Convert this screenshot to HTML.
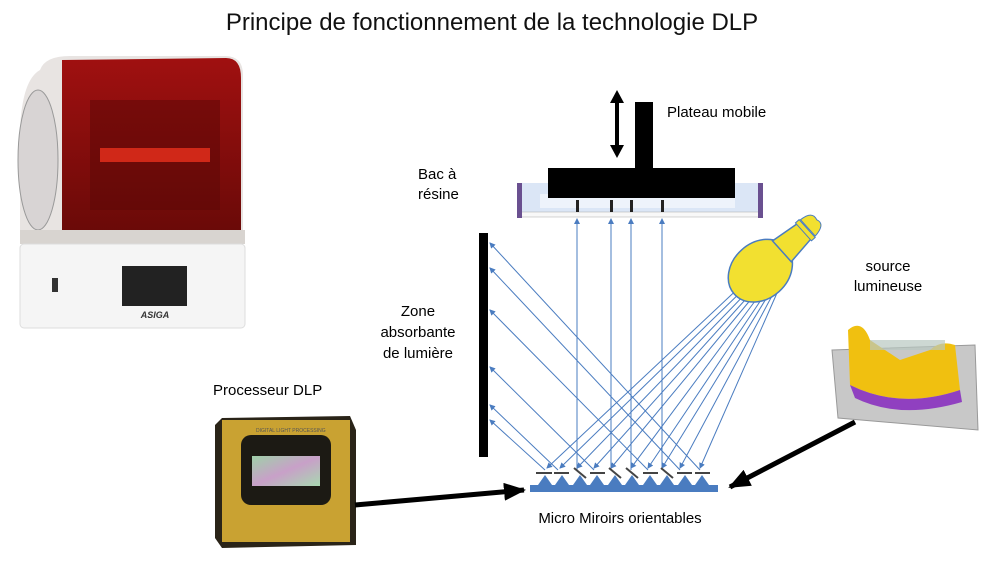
<!DOCTYPE html>
<html><head><meta charset="utf-8"><style>
html,body{margin:0;padding:0;background:#fff;}
svg{display:block;font-family:"Liberation Sans",sans-serif;}
</style></head><body>
<svg width="1000" height="562" viewBox="0 0 1000 562" xmlns="http://www.w3.org/2000/svg">
<defs>
<marker id="ah" markerWidth="6" markerHeight="6" refX="5" refY="3" orient="auto" markerUnits="userSpaceOnUse"><path d="M0,0 L6,3 L0,6 z" fill="#4a7cc0"/></marker>
<marker id="bh" markerWidth="22" markerHeight="18" refX="20" refY="9" orient="auto" markerUnits="userSpaceOnUse"><path d="M0,0 L22,9 L0,18 z" fill="#000"/></marker>
<linearGradient id="red" x1="0" y1="0" x2="0" y2="1"><stop offset="0" stop-color="#a01010"/><stop offset="1" stop-color="#6a0a08"/></linearGradient>
<linearGradient id="scr" x1="0" y1="0" x2="1" y2="1"><stop offset="0" stop-color="#9fd0a8"/><stop offset=".5" stop-color="#c8a0c8"/><stop offset="1" stop-color="#a8d8b0"/></linearGradient>
</defs>
<text x="492" y="30" font-size="24" text-anchor="middle" fill="#111">Principe de fonctionnement de la technologie DLP</text>

<!-- printer -->
<path d="M40,70 Q45,56 70,56 L225,56 Q243,56 243,75 L243,240 L20,240 L20,130 Q22,80 40,70z" fill="#e8e4e2"/>
<path d="M62,60 L226,58 Q241,58 241,78 L241,232 L62,232 z" fill="url(#red)"/>
<ellipse cx="38" cy="160" rx="20" ry="70" fill="#d8d4d4" stroke="#999"/>
<rect x="90" y="100" width="130" height="110" fill="#5a0806" opacity=".5"/>
<rect x="100" y="148" width="110" height="14" fill="#d02818"/>
<rect x="20" y="230" width="225" height="14" fill="#d8d4d0"/>
<rect x="20" y="244" width="225" height="84" rx="4" fill="#f5f5f5" stroke="#ddd"/>
<rect x="122" y="266" width="65" height="40" fill="#222"/>
<rect x="52" y="278" width="6" height="14" fill="#333"/>
<text x="155" y="318" font-size="9" font-weight="bold" font-style="italic" text-anchor="middle" fill="#333">ASIGA</text>

<!-- labels -->
<text x="667" y="117" font-size="15">Plateau mobile</text>
<text x="418" y="179" font-size="15">Bac à</text>
<text x="418" y="199" font-size="15">résine</text>
<text x="418" y="316" font-size="15" text-anchor="middle">Zone</text>
<text x="418" y="337" font-size="15" text-anchor="middle">absorbante</text>
<text x="418" y="358" font-size="15" text-anchor="middle">de lumière</text>
<text x="888" y="271" font-size="15" text-anchor="middle">source</text>
<text x="888" y="291" font-size="15" text-anchor="middle">lumineuse</text>
<text x="213" y="395" font-size="15">Processeur DLP</text>
<text x="620" y="523" font-size="15" text-anchor="middle">Micro Miroirs orientables</text>

<!-- plateau -->
<path d="M617,90 L624,103 L619,103 L619,145 L624,145 L617,158 L610,145 L615,145 L615,103 L610,103 z" fill="#000"/>
<rect x="635" y="102" width="18" height="70" fill="#000"/>
<rect x="520" y="183" width="242" height="31" fill="#dbe6f6"/>
<rect x="540" y="194" width="195" height="14" fill="#eef3fb"/>
<rect x="520" y="212" width="242" height="5" fill="#f8f8f8" stroke="#aaa" stroke-width=".5"/>
<rect x="517" y="183" width="5" height="35" fill="#6a5090"/>
<rect x="758" y="183" width="5" height="35" fill="#6a5090"/>
<rect x="548" y="168" width="187" height="30" fill="#000"/>
<g fill="#222"><rect x="576" y="200" width="3" height="12"/><rect x="610" y="200" width="3" height="12"/><rect x="630" y="200" width="3" height="12"/><rect x="661" y="200" width="3" height="12"/></g>

<!-- absorbing bar -->
<rect x="479" y="233" width="9" height="224" fill="#000"/>

<!-- rays -->
<g stroke="#4a7cc0" stroke-width="1" fill="none" marker-end="url(#ah)">
<line x1="577" y1="470" x2="577" y2="219"/>
<line x1="611" y1="470" x2="611" y2="219"/>
<line x1="631" y1="470" x2="631" y2="219"/>
<line x1="662" y1="470" x2="662" y2="219"/>
<line x1="545" y1="470" x2="490" y2="420"/>
<line x1="558" y1="470" x2="490" y2="405"/>
<line x1="594" y1="470" x2="490" y2="367"/>
<line x1="648" y1="470" x2="490" y2="310"/>
<line x1="680" y1="470" x2="490" y2="268"/>
<line x1="700" y1="470" x2="490" y2="243"/>
<line x1="745" y1="282" x2="547" y2="468"/>
<line x1="748" y1="285" x2="560" y2="468"/>
<line x1="751" y1="288" x2="577" y2="468"/>
<line x1="754" y1="290" x2="594" y2="468"/>
<line x1="757" y1="292" x2="611" y2="468"/>
<line x1="761" y1="293" x2="631" y2="468"/>
<line x1="765" y1="294" x2="648" y2="468"/>
<line x1="769" y1="294" x2="662" y2="468"/>
<line x1="773" y1="294" x2="680" y2="468"/>
<line x1="777" y1="293" x2="700" y2="468"/>
</g>

<!-- bulb -->
<g transform="rotate(48 770 262)">
<ellipse cx="770" cy="275" rx="28" ry="35" fill="#f2e030" stroke="#4a7cc0" stroke-width="1.5"/>
<path d="M756,246 L760,214 L780,214 L784,246 z" fill="#f2e030" stroke="#4a7cc0" stroke-width="1.5"/>
<rect x="758" y="212" width="24" height="5" fill="#f2e030" stroke="#4a7cc0"/>
<path d="M759,211 Q760,196 770,199 Q779,195 781,211 z" fill="#f2e030" stroke="#4a7cc0"/>
</g>

<!-- mirrors -->
<rect x="530" y="485" width="188" height="7" fill="#4a7cc0"/>
<g fill="#4a7cc0">
<path d="M538,485 L545,475 L552,485z"/><path d="M555,485 L562,475 L569,485z"/><path d="M573,485 L580,475 L587,485z"/><path d="M590,485 L597,475 L604,485z"/><path d="M608,485 L615,475 L622,485z"/><path d="M625,485 L632,475 L639,485z"/><path d="M643,485 L650,475 L657,485z"/><path d="M660,485 L667,475 L674,485z"/><path d="M678,485 L685,475 L692,485z"/><path d="M695,485 L702,475 L709,485z"/>
</g>
<g stroke="#444" stroke-width="2">
<line x1="536" y1="473" x2="552" y2="473"/><line x1="554" y1="473" x2="569" y2="473"/><line x1="574" y1="468" x2="586" y2="478"/><line x1="590" y1="473" x2="605" y2="473"/><line x1="609" y1="468" x2="621" y2="478"/><line x1="626" y1="468" x2="638" y2="478"/><line x1="643" y1="473" x2="658" y2="473"/><line x1="661" y1="468" x2="673" y2="478"/><line x1="677" y1="473" x2="692" y2="473"/><line x1="695" y1="473" x2="710" y2="473"/>
</g>

<!-- chip -->
<path d="M222,418 L350,416 L356,430 L356,545 L222,548 L215,538 L215,425 z" fill="#2a2418"/>
<rect x="222" y="420" width="128" height="122" fill="#c9a232"/>
<rect x="241" y="435" width="90" height="70" rx="10" fill="#1c1a14"/>
<rect x="252" y="456" width="68" height="30" fill="url(#scr)"/>
<text x="256" y="432" font-size="5" fill="#555">DIGITAL LIGHT PROCESSING</text>

<!-- dental model -->
<path d="M832,350 L975,345 L978,430 L838,418 z" fill="#c8c8c8" stroke="#999"/>
<path d="M848,330 Q862,318 870,340 L900,360 L930,350 Q940,340 955,345 L960,390 Q900,410 850,385 z" fill="#f0c010"/>
<path d="M850,385 Q900,410 960,390 L962,402 Q900,420 855,398 z" fill="#9040c0"/>
<rect x="870" y="340" width="75" height="10" fill="#b8c8c0" opacity=".7"/>

<!-- black arrows -->
<line x1="355" y1="505" x2="524" y2="490" stroke="#000" stroke-width="5" marker-end="url(#bh)"/>
<line x1="855" y1="422" x2="730" y2="487" stroke="#000" stroke-width="5" marker-end="url(#bh)"/>
</svg>
</body></html>
